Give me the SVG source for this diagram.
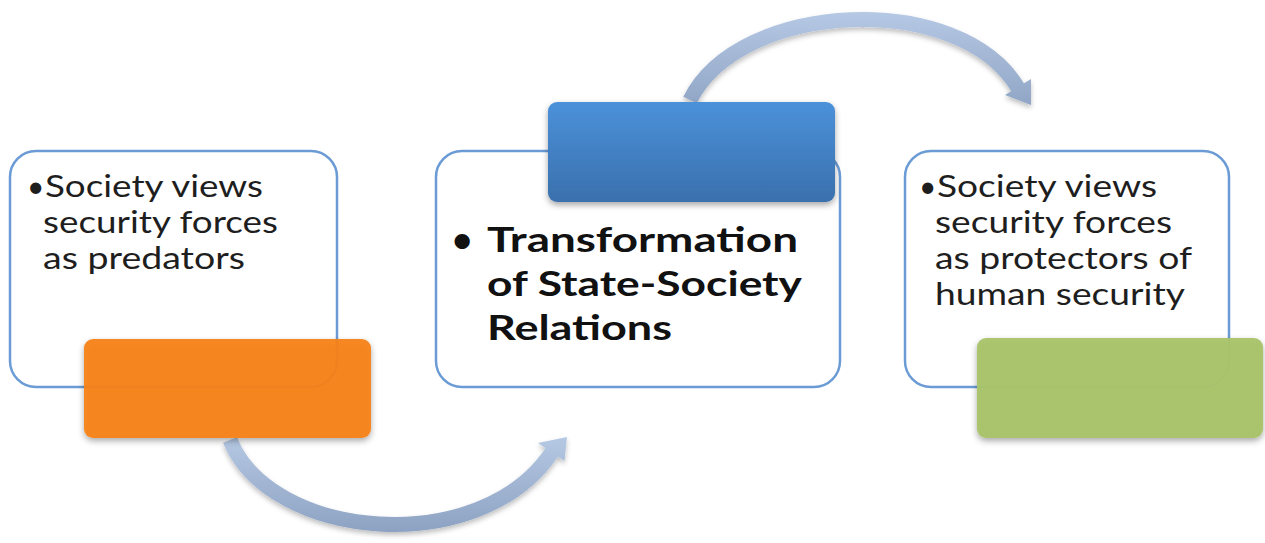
<svg xmlns="http://www.w3.org/2000/svg" width="1265" height="543" viewBox="0 0 1265 543">
  <defs>
    <style>
      .box { fill: #ffffff; stroke: #6b9bd5; stroke-width: 2.5; }
      .txt { font-family: Lato, "Open Sans", "Liberation Sans", sans-serif; font-size: 30px; fill: #1e1e1e; }
      .big { font-family: Lato, "Open Sans", "Liberation Sans", sans-serif; font-size: 35px; font-weight: bold; fill: #111111; }
      .arc { fill: none; stroke-width: 15; stroke-linecap: butt; }
    </style>
    <filter id="shadow" x="-10%" y="-10%" width="120%" height="130%">
      <feDropShadow dx="0" dy="3" stdDeviation="3" flood-color="#000" flood-opacity="0.35"/>
    </filter>
    <filter id="arcShadow" x="-10%" y="-20%" width="120%" height="140%">
      <feDropShadow dx="0" dy="3" stdDeviation="2.5" flood-color="#000" flood-opacity="0.25"/>
    </filter>
    <linearGradient id="blueFill" x1="0" y1="0" x2="0" y2="1">
      <stop offset="0" stop-color="#4b91da"/>
      <stop offset="1" stop-color="#3a70ad"/>
    </linearGradient>
    <linearGradient id="arcLow" gradientUnits="userSpaceOnUse" x1="0" y1="430" x2="0" y2="530">
      <stop offset="0" stop-color="#b8cbe6"/>
      <stop offset="1" stop-color="#8ea3c3"/>
    </linearGradient>
    <linearGradient id="arcHigh" gradientUnits="userSpaceOnUse" x1="0" y1="10" x2="0" y2="110">
      <stop offset="0" stop-color="#b6c9e5"/>
      <stop offset="1" stop-color="#8fa4c4"/>
    </linearGradient>
  </defs>

  <rect width="1265" height="543" fill="#ffffff"/>

  <!-- curved arrows between the stages -->
  <g id="connectors">
    <g filter="url(#arcShadow)">
      <path class="arc" stroke="url(#arcLow)" d="M230,440 C270,540 480,560 552,452"/>
      <polygon fill="url(#arcLow)" points="567,437 564.5,461 538,443"/>
    </g>
    <g filter="url(#arcShadow)">
      <path class="arc" stroke="url(#arcHigh)" d="M690,100 C740,0 960,-10 1018,88"/>
      <polygon fill="url(#arcHigh)" points="1031,105 1031,79 1005,95"/>
    </g>
  </g>

  <!-- stage 1 -->
  <g id="node-predators">
    <rect class="box" x="10" y="151" width="327" height="236" rx="26"/>
    <text class="txt" x="27" y="197">•</text>
    <text class="txt" x="45" y="197" textLength="218" lengthAdjust="spacingAndGlyphs">Society views</text>
    <text class="txt" x="43" y="233" textLength="235" lengthAdjust="spacingAndGlyphs">security forces</text>
    <text class="txt" x="43" y="269" textLength="202" lengthAdjust="spacingAndGlyphs">as predators</text>
    <rect x="84" y="339" width="287" height="99" rx="9" fill="#f7821a" fill-opacity="0.94" filter="url(#shadow)"/>
  </g>

  <!-- stage 2 -->
  <g id="node-transformation">
    <rect class="box" x="436" y="151" width="404" height="236" rx="26"/>
    <rect x="548" y="102" width="287" height="100" rx="9" fill="url(#blueFill)" filter="url(#shadow)"/>
    <text class="big" x="452" y="252">•</text>
    <text class="big" x="487" y="252" textLength="311" lengthAdjust="spacingAndGlyphs">Transformation</text>
    <text class="big" x="487" y="296" textLength="315" lengthAdjust="spacingAndGlyphs">of State-Society</text>
    <text class="big" x="487" y="340" textLength="185" lengthAdjust="spacingAndGlyphs">Relations</text>
  </g>

  <!-- stage 3 -->
  <g id="node-protectors">
    <rect class="box" x="905" y="151" width="324" height="236" rx="26"/>
    <text class="txt" x="919" y="197">•</text>
    <text class="txt" x="937" y="197" textLength="220" lengthAdjust="spacingAndGlyphs">Society views</text>
    <text class="txt" x="935" y="233" textLength="237" lengthAdjust="spacingAndGlyphs">security forces</text>
    <text class="txt" x="935" y="269" textLength="257" lengthAdjust="spacingAndGlyphs">as protectors of</text>
    <text class="txt" x="935" y="305" textLength="250" lengthAdjust="spacingAndGlyphs">human security</text>
    <rect x="977" y="338" width="286" height="100" rx="9" fill="#a9c46b" fill-opacity="0.96" filter="url(#shadow)"/>
  </g>
</svg>
